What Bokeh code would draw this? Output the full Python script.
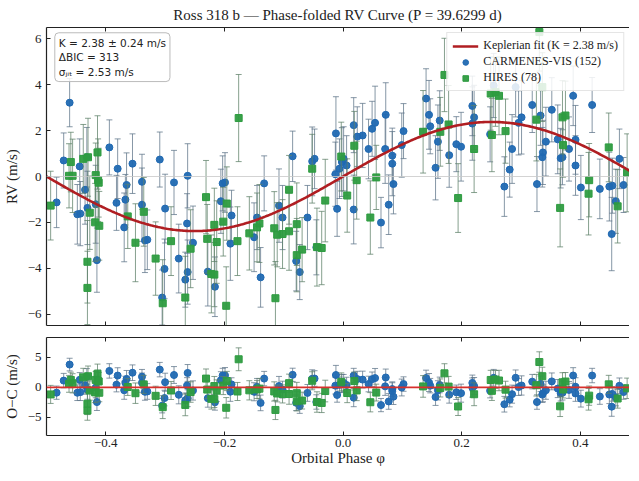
import numpy as np
from bokeh.plotting import figure
from bokeh.layouts import column
from bokeh.models import (ColumnDataSource, Label, Legend, LegendItem, Span,
                          FixedTicker, LinearAxis)
from bokeh.embed import file_html
from bokeh.resources import INLINE

# ---------------- data ----------------
K_FIT = 2.38

car_phase = [-0.483, -0.471, -0.461, -0.448, -0.443, -0.444, -0.435, -0.432, -0.431, -0.415, -0.417,
             -0.394, -0.380, -0.382, -0.365, -0.367, -0.369, -0.355, -0.339, -0.339, -0.334, -0.330,
             -0.309, -0.300, -0.285, -0.301, -0.305, -0.277, -0.262, -0.263, -0.253, -0.262, -0.266,
             -0.228, -0.216, -0.206, -0.203, -0.199, -0.188, -0.190, -0.133, -0.145, -0.150, -0.139, -0.108, -0.102,
             -0.085, -0.079, -0.073, -0.060, -0.052, -0.048, -0.045, -0.012, -0.013, -0.006, -0.010, -0.002,
             0.006, 0.001, 0.018, 0.018, 0.024, 0.033, 0.049, 0.054, 0.043, 0.064, 0.072, 0.071, 0.077, 0.083, 0.083, 0.085,
             0.102, 0.099, 0.140, 0.145, 0.147, 0.156, 0.160, 0.163, 0.179, 0.191, 0.199, 0.218, 0.221, 0.218, 0.248,
             0.254, 0.291, 0.285, 0.281, 0.272, 0.296, 0.301, 0.319, 0.333, 0.342, 0.337, 0.336, 0.327, 0.352, 0.388, 0.362,
             0.367, 0.370, 0.381, 0.392, 0.392, 0.420, 0.401, 0.433, 0.449, 0.454, 0.460, 0.453, 0.466, 0.473, 0.491, 0.494]
car_rv = [-1.13, 0.70, 3.22, -1.65, -1.62, 0.44, -0.58, 0.84, -1.37, -3.65, -1.21,
          1.27, 0.34, -1.15, -0.37, -1.01, -2.22, 0.56, -0.23, -1.23, -2.79, -2.76,
          0.74, -1.40, -0.26, -4.03, -5.28, -3.58, 0.03, -2.05, -2.89, -4.17, -4.50,
          -4.15, -4.81, -1.08, -0.30, -0.26, -1.70, -2.93, -0.30, -1.79, -2.65, -4.40, -1.27, -1.79,
          0.88, -3.69, -4.17, -1.79, 0.66, 0.77, -3.09, 1.88, 0.10, 0.34, -1.41, 0.63,
          0.48, 0.77, 2.24, -1.44, 1.74, 1.79, 2.08, 2.34, 1.20, -2.01, 2.69, 1.20, -1.23, 0.91, 0.56, -0.33,
          1.98, 1.37, 3.40, 2.69, 2.19, 0.38, 1.52, 2.44, 0.93, 1.41, 1.30, 3.08, 2.58, 2.31, 1.84,
          3.97, 3.90, 1.20, 0.30, -0.44, 2.34, 2.58, 3.12, 2.66, 1.52, 1.05, 0.84, -0.33, 2.91, 3.52, 1.62,
          0.80, 0.84, 1.20, 1.60, 0.48, 3.12, -0.48, -0.54, -0.44, -0.40, -1.08, -2.51, 0.77, -0.37, -0.83, -1.94]
car_err = [1.1, 1.2, 1.05, 1.3, 1.4, 1.2, 1.5, 1.3, 1.6, 1.4, 1.7,
           1.2, 1.3, 1.2, 1.4, 1.1, 1.5, 1.3, 1.2, 1.6, 1.4, 1.3,
           1.2, 1.5, 1.4, 1.3, 1.2, 1.5, 1.4, 1.3, 1.6, 1.4, 1.2,
           1.5, 1.3, 1.4, 1.2, 1.3, 1.1, 1.6, 1.2, 1.4, 1.5, 1.3, 1.6, 1.4,
           1.1, 1.3, 1.2, 1.4, 1.5, 1.3, 1.2, 1.6, 1.4, 1.3, 1.2, 1.5,
           1.3, 1.4, 1.2, 1.5, 1.3, 1.4, 1.2, 1.6, 1.3, 1.1, 1.4, 1.5, 1.3, 1.2, 1.4, 1.3,
           1.2, 1.4, 1.3, 1.5, 1.2, 1.4, 1.6, 1.3, 1.4, 1.2, 1.5, 1.3, 1.4, 1.6, 1.2,
           1.4, 1.3, 1.5, 1.2, 1.3, 1.4, 1.6, 1.2, 1.3, 1.5, 1.4, 1.3, 1.2, 1.4, 1.3, 1.5,
           1.3, 1.2, 1.4, 1.5, 1.3, 1.2, 1.4, 1.3, 1.5, 1.2, 1.4, 1.6, 1.3, 1.2, 1.4, 1.5]

hir_phase = [-0.493, -0.459, -0.462, -0.456, -0.438, -0.430, -0.414, -0.417, -0.413, -0.412, -0.427, -0.418,
             -0.411, -0.431, -0.431, -0.350, -0.336, -0.363, -0.316, -0.304, -0.290, -0.257, -0.266,
             -0.231, -0.229, -0.222, -0.217, -0.217, -0.213, -0.202, -0.196, -0.197, -0.178, -0.176, -0.158, -0.145, -0.141,
             -0.116, -0.111, -0.102, -0.091, -0.114, -0.091, -0.078, -0.078, -0.069, -0.052, -0.044, -0.036, -0.030, -0.003,
             0.007, 0.019, 0.023, 0.046, 0.056, 0.135, 0.164, 0.171, 0.178, 0.194, 0.221, 0.249,
             0.257, 0.263, 0.251, 0.274, 0.326, 0.336, 0.331, 0.370, 0.375, 0.371, 0.366, 0.415, 0.414, 0.448, 0.463, 0.479, 0.491]
hir_rv = [-1.27, 0.63, 0.03, 0.03, 0.77, 0.84, 1.05, 0.06, -0.16, -0.27, -1.58, -2.00,
          -2.15, -3.72, -4.86, -2.89, -1.54, -1.74, -3.58, -5.53, -2.82, -3.15, -5.28,
          -0.90, -2.72, -4.25, -4.28, -2.11, -2.86, -1.97, -1.18, -5.64, -2.82, 2.55, -2.48, -2.22, -2.05,
          -2.26, -2.54, -2.51, -2.39, -5.31, -0.58, -2.08, -3.43, -3.19, 0.34, -3.08, -3.12, -1.05, 0.87,
          -0.83, 1.34, -0.16, -1.79, -0.04, 1.95, 1.95, 4.43, 2.27, -0.94, 1.20, 3.62,
          3.69, 3.52, 1.81, 1.98, 2.48, 3.90, 6.30, 2.58, 2.66, 1.37, -1.37, -0.16, -0.75, 1.27, -1.30, 0.16, 2.24]
hir_err = [1.5, 1.3, 1.4, 1.6, 1.5, 1.7, 1.6, 1.4, 1.8, 1.5, 1.6, 1.7,
           1.5, 1.8, 1.6, 1.7, 1.5, 1.4, 1.6, 1.9, 1.5, 1.7, 1.8,
           1.6, 1.5, 1.7, 1.4, 1.6, 1.8, 1.5, 1.6, 1.7, 1.5, 1.9, 1.6, 1.5, 1.7,
           1.6, 1.4, 1.5, 1.7, 1.6, 1.5, 1.8, 1.6, 1.4, 1.5, 1.7, 1.6, 1.8, 1.5,
           1.6, 1.5, 1.7, 1.6, 1.4, 1.8, 1.5, 1.6, 1.7, 1.5, 1.9, 1.6,
           1.5, 1.7, 1.6, 1.4, 1.8, 1.5, 1.7, 1.6, 1.5, 1.4, 1.7, 1.6, 1.8, 1.5, 1.6, 1.7, 1.5]

x_ticks = [-0.4, -0.2, 0.0, 0.2, 0.4]
x_tick_labels = ["\u22120.4", "\u22120.2", "0.0", "0.2", "0.4"]
rv_ticks = [-6, -4, -2, 0, 2, 4, 6]
rv_tick_labels = ["\u22126", "\u22124", "\u22122", "0", "2", "4", "6"]
oc_ticks = [-5, 0, 5]
oc_tick_labels = ["\u22125", "0", "5"]

# ---------------- styling ----------------
BLUE = "#2069b2"
GREEN = "#2e9c40"
BLUE_E = "#5d7488"
GREEN_E = "#5e8068"
RED = "#b01e22"
INK = "#222222"
SERIF = "Liberation Serif"
X_RANGE = (-0.5, 0.483)


def model(ph):
    return K_FIT * np.sin(2 * np.pi * np.asarray(ph))


def make_src(ph, rv, err):
    ph = np.asarray(ph); rv = np.asarray(rv); err = np.asarray(err)
    res = rv - model(ph)
    return ColumnDataSource(dict(phase=ph, rv=rv, lo=rv - err, hi=rv + err,
                                 res=res, rlo=res - err, rhi=res + err))


car = make_src(car_phase, car_rv, car_err)
hir = make_src(hir_phase, hir_rv, hir_err)
grid_ph = np.linspace(-0.5, 0.5, 400)
curve = ColumnDataSource(dict(phase=grid_ph, rv=model(grid_ph)))


def base_axis(ax):
    ax.axis_line_color = INK
    ax.axis_line_width = 1.2
    ax.major_tick_in = 4
    ax.major_tick_out = 0
    ax.minor_tick_in = 0
    ax.minor_tick_out = 0
    ax.major_tick_line_color = INK
    ax.major_label_text_font = SERIF
    ax.major_label_text_font_size = "13px"
    ax.major_label_text_color = INK
    ax.axis_label_text_font = SERIF
    ax.axis_label_text_font_size = "15px"
    ax.axis_label_text_font_style = "normal"
    ax.axis_label_text_color = INK


def blank_labels(ax, ticks):
    ax.major_label_overrides = {t: "" for t in ticks}
    ax.major_label_text_font_size = "1px"
    ax.major_label_standoff = 0


def setup(p, yticks, ylabels, show_x_labels):
    p.grid.visible = False
    p.outline_line_color = None
    xb = p.below[0]
    yl = p.left[0]
    base_axis(xb)
    base_axis(yl)
    xb.ticker = FixedTicker(ticks=x_ticks)
    yl.ticker = FixedTicker(ticks=yticks)
    yl.major_label_overrides = dict(zip(yticks, ylabels))
    if show_x_labels:
        xb.major_label_overrides = dict(zip(x_ticks, x_tick_labels))
    else:
        blank_labels(xb, x_ticks)
    ax = LinearAxis(ticker=FixedTicker(ticks=x_ticks))
    base_axis(ax)
    blank_labels(ax, x_ticks)
    p.add_layout(ax, "above")
    return xb, yl


def draw_points(p, ycol, locol, hicol):
    rs = []
    for s, col, ecol, marker in [(car, BLUE, BLUE_E, "circle"), (hir, GREEN, GREEN_E, "square")]:
        p.segment(x0="phase", y0=locol, x1="phase", y1=hicol, source=s,
                  line_color=ecol, line_alpha=0.75, line_width=1)
        p.scatter(x="phase", y=locol, source=s, marker="dash", size=6,
                  line_color=ecol, line_alpha=0.75, line_width=1)
        p.scatter(x="phase", y=hicol, source=s, marker="dash", size=6,
                  line_color=ecol, line_alpha=0.75, line_width=1)
        r = p.scatter(x="phase", y=ycol, source=s, marker=marker, size=7,
                      fill_color=col, line_color=col, fill_alpha=0.95)
        rs.append(r)
    return rs


# ---------------- top panel ----------------
top = figure(frame_width=583, frame_height=298, x_range=X_RANGE, y_range=(-6.5, 6.5),
             output_backend="svg", toolbar_location=None,
             min_border_left=40, min_border_right=0, min_border_top=0, min_border_bottom=4)
top.title.text = "Ross 318 b \u2014 Phase-folded RV Curve (P = 39.6299 d)"
top.title.align = "center"
top.title.text_font = SERIF
top.title.text_font_size = "15px"
top.title.text_font_style = "normal"
top.title.text_color = INK
top.title.standoff = 9
xb, yl = setup(top, rv_ticks, rv_tick_labels, False)
yl.axis_label = "RV (m/s)"
top.add_layout(Span(location=0, dimension="width", line_color="#c8c8c8", line_width=0.8))

r_car, r_hir = draw_points(top, "rv", "lo", "hi")
r_fit = top.line(x="phase", y="rv", source=curve, line_color=RED, line_width=2.6)

legend = Legend(items=[LegendItem(label="Keplerian fit (K = 2.38 m/s)", renderers=[r_fit]),
                       LegendItem(label="CARMENES-VIS (152)", renderers=[r_car]),
                       LegendItem(label="HIRES (78)", renderers=[r_hir])],
                location="top_right")
legend.label_text_font = SERIF
legend.label_text_font_size = "12px"
legend.label_text_color = INK
legend.label_height = 14
legend.glyph_height = 14
legend.glyph_width = 26
legend.spacing = 1
legend.padding = 5
legend.margin = 5
legend.border_line_color = "#cccccc"
legend.background_fill_alpha = 0.85
top.add_layout(legend)

info = Label(x=-0.486, y=6.27, x_units="data", y_units="data",
             text="K = 2.38 \u00b1 0.24 m/s\n\u0394BIC = 313\n\u03c3\u2c7c\u1d62\u209c = 2.53 m/s",
             text_font="DejaVu Sans", text_font_size="10.5px", text_color=INK,
             text_baseline="top", text_align="left",
             background_fill_color="white", background_fill_alpha=0.85,
             border_line_color="#bbbbbb", border_line_width=1, padding=4, border_radius=4)
top.add_layout(info)

# ---------------- residual panel ----------------
bot = figure(frame_width=583, frame_height=98, x_range=top.x_range, y_range=(-8.0, 8.3),
             output_backend="svg", toolbar_location=None,
             min_border_left=40, min_border_right=0, min_border_top=8, min_border_bottom=0)
xb2, yl2 = setup(bot, oc_ticks, oc_tick_labels, True)
xb2.major_label_standoff = 3
xb2.axis_label_standoff = 0
xb2.axis_label = "Orbital Phase \u03c6"
yl2.axis_label = "O\u2212C (m/s)"
draw_points(bot, "res", "rlo", "rhi")
bot.add_layout(Span(location=0, dimension="width", line_color="#d8302c", line_width=1.6))

layout = column(top, bot)
open("out.html", "w").write(file_html(layout, INLINE))
